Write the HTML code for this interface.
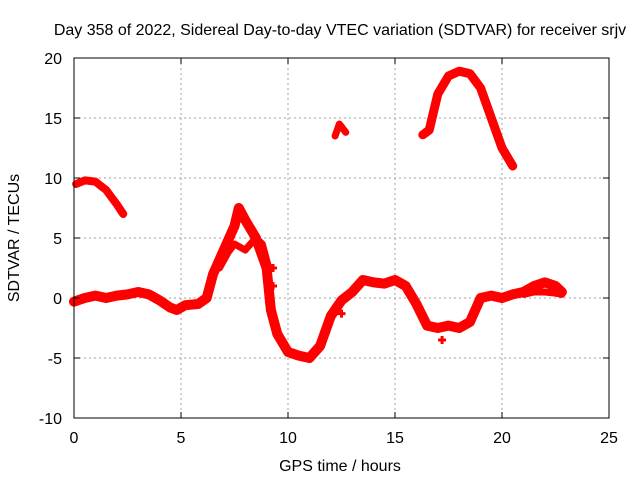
<!DOCTYPE html>
<html><head><meta charset="utf-8"><style>
body{margin:0;background:#fff}
svg{font-family:"Liberation Sans",sans-serif;font-size:16px}
</style></head><body>
<svg id="chart" width="640" height="480">
<rect width="640" height="480" fill="#fff"/>
<g id="grid"></g>
<g id="series"></g>
<rect x="74" y="58" width="535" height="360" fill="none" stroke="#000" stroke-width="1"/>
<g id="ticks"></g>
<text x="340" y="35" text-anchor="middle">Day 358 of 2022, Sidereal Day-to-day VTEC variation (SDTVAR) for receiver srjv</text>
<text x="340" y="471" text-anchor="middle">GPS time / hours</text>
<text x="19" y="238" text-anchor="middle" transform="rotate(-90 19 238)">SDTVAR / TECUs</text>
</svg>
<script>
const xTicks=[0,5,10,15,20,25];
const yTicks=[-10,-5,0,5,10,15,20];
const mainT=[0,0.5,1,1.5,2,2.5,3,3.5,4,4.5,4.8,5.2,5.8,6.2,6.5,7,7.5,7.7,8,8.5,9,9.2,9.5,10,10.5,11,11.5,12,12.5,13,13.5,14,14.5,15,15.5,16,16.5,17,17.5,18,18.5,19,19.5,20,20.5,21,21.5,22,22.5,22.8];
const mainV=[-0.3,0,0.2,0,0.2,0.3,0.5,0.3,-0.2,-0.8,-1,-0.6,-0.5,0,2,4,6,7.5,6.5,5,2.5,-1,-3,-4.5,-4.8,-5,-4,-1.5,-0.2,0.5,1.5,1.3,1.2,1.5,1,-0.5,-2.3,-2.5,-2.3,-2.5,-2,0,0.2,0,0.3,0.5,1,1.3,1,0.5];
const branchT=[6.8,7.2,7.5,8,8.5,8.8,9.1];
const branchV=[2.5,3.8,4.5,4,5,4.5,2.5];
const branch2T=[21,21.5,22,22.5,22.8];
const branch2V=[0.3,0.5,0.5,0.4,0.3];
const earlyT=[0.1,0.5,1,1.5,2,2.3];
const earlyV=[9.5,9.8,9.7,9,7.8,7];
const midT=[12.2,12.4,12.7];
const midV=[13.5,14.5,13.8];
const lateT=[16.3,16.6,17,17.5,18,18.5,19,19.5,20,20.5];
const lateV=[13.6,14,17,18.5,18.9,18.7,17.5,15,12.5,11];
const blipT=[12.5,17.2,9.3,9.3];
const blipV=[-1.3,-3.5,2.5,1];
const X=t=>74+t*535/25, Y=v=>58+(20-v)*12;
const NS='http://www.w3.org/2000/svg';
const grid=document.getElementById('grid'),ticks=document.getElementById('ticks'),ser=document.getElementById('series');
function mk(tag,attrs,parent){const e=document.createElementNS(NS,tag);for(const k in attrs)e.setAttribute(k,attrs[k]);parent.appendChild(e);return e;}
xTicks.forEach(t=>{
 if(t>0&&t<25){const g=mk('line',{x1:X(t),x2:X(t),y1:58,y2:418,stroke:'#a0a0a0','stroke-dasharray':'2,3'},grid);}
 mk('line',{x1:X(t),x2:X(t),y1:418,y2:412,stroke:'#000'},ticks);mk('line',{x1:X(t),x2:X(t),y1:58,y2:64,stroke:'#000'},ticks);
 const l=mk('text',{x:X(t),y:443,'text-anchor':'middle'},ticks);l.textContent=t;
 
 
});
yTicks.forEach(v=>{
 if(v>-10&&v<20){const g=mk('line',{x1:74,x2:609,y1:Y(v),y2:Y(v),stroke:'#a0a0a0','stroke-dasharray':'2,3'},grid);}
 mk('line',{x1:74,x2:80,y1:Y(v),y2:Y(v),stroke:'#000'},ticks);mk('line',{x1:609,x2:603,y1:Y(v),y2:Y(v),stroke:'#000'},ticks);
 const l=mk('text',{x:62,y:Y(v)+6,'text-anchor':'end'},ticks);l.textContent=v;
 
 
});
function line(ts,vs,name,w){
 const p=mk('polyline',{points:ts.map((t,i)=>X(t)+','+Y(vs[i])).join(' '),fill:'none',stroke:'#f00','stroke-width':w,'stroke-linejoin':'round','stroke-linecap':'round'},ser);
 
 
}
line(mainT,mainV,'main-series',10);
line(branchT,branchV,'branch-series',7);
line(branch2T,branch2V,'late-branch-series',7);
line(earlyT,earlyV,'early-series',8);
line(midT,midV,'mid-series',7);
line(lateT,lateV,'late-series',9);
blipT.forEach((t,i)=>{
 const g=mk('path',{d:`M${X(t)-4},${Y(blipV[i])}h8M${X(t)},${Y(blipV[i])-4}v8`,stroke:'#f00','stroke-width':3},ser);
 
 
});
</script>
</body></html>
